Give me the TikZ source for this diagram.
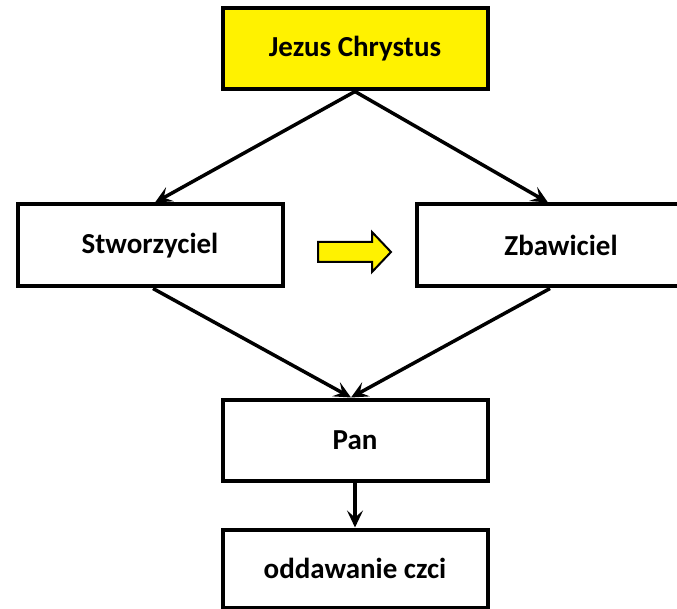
\documentclass[tikz,border=0pt]{standalone}
\usepackage{fontspec}
\setmainfont{Carlito}
\usetikzlibrary{arrows.meta}
\begin{document}
\begin{tikzpicture}[x=1pt,y=-1pt,
  box/.style={draw,line width=4pt,rectangle,inner sep=0pt,minimum width=265pt,
    font=\bfseries\fontsize{29}{34}\selectfont},
  arr/.style={line width=3.5pt,-{Stealth[length=17pt,width=16pt,inset=7pt]}}]
\useasboundingbox (0,0) rectangle (677,609);
\clip (0,0) rectangle (677,609);
\node[box,fill=yellow,minimum height=81pt] (jezus) at (355,49) {Jezus Chrystus};
\node[box,minimum height=82pt] (stworz) at (150,245.5) {Stworzyciel};
\node[box,minimum height=82pt,minimum width=288pt] (zbaw) at (561,245.5) {Zbawiciel};
\node[box,minimum height=81pt] (pan) at (355,440) {\raisebox{-5pt}{Pan}};
\node[box,minimum height=78pt] (czesc) at (355,568.5) {oddawanie czci};
% strzalki
\draw[arr] (jezus.south) -- ([xshift=5pt]stworz.north);
\draw[arr] (jezus.south) -- ([xshift=-13pt]zbaw.north);
\draw[arr] ([xshift=3pt]stworz.south) -- ([xshift=-4pt]pan.north);
\draw[arr] ([xshift=-11pt]zbaw.south) -- ([xshift=-4pt]pan.north);
\draw[arr] (pan.south) -- (czesc.north);
% zolta strzalka
\draw[line width=2pt,fill=yellow] (318,242) -- (372,242) -- (372,232) -- (391,252)
  -- (372,272) -- (372,262) -- (318,262) -- cycle;
\end{tikzpicture}
\end{document}
